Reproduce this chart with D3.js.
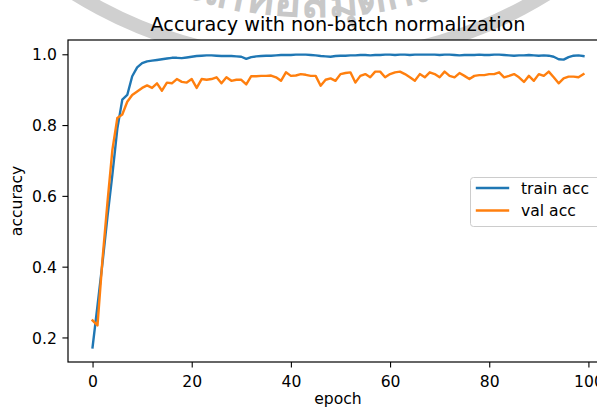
<!DOCTYPE html>
<html>
<head>
<meta charset="utf-8">
<script src="https://cdn.jsdelivr.net/npm/d3@7"></script>
<style>
  html, body { margin: 0; padding: 0; background: #fff; overflow: hidden; }
  svg { display: block; }
  text { font-family: "DejaVu Sans", sans-serif; fill: #000; }
</style>
</head>
<body>
<svg id="chart" width="597" height="409"></svg>
<script>
// Per-epoch accuracy of the model trained without batch normalization
const trainAcc = [
  0.172, 0.29, 0.41, 0.54, 0.66, 0.79, 0.872, 0.885, 0.938, 0.963,
  0.975, 0.980, 0.982, 0.984, 0.986, 0.988, 0.990, 0.990, 0.989, 0.991,
  0.993, 0.995, 0.996, 0.997, 0.997, 0.996, 0.995, 0.995, 0.995, 0.994,
  0.993, 0.987, 0.992, 0.994, 0.995, 0.996, 0.996, 0.997, 0.998, 0.998,
  0.998, 0.999, 0.999, 0.999, 0.998, 0.997, 0.995, 0.994, 0.993, 0.995,
  0.996, 0.996, 0.997, 0.997, 0.998, 0.998, 0.997, 0.998, 0.998, 0.999,
  0.999, 0.998, 0.999, 0.999, 0.998, 0.999, 0.999, 0.999, 0.999, 0.999,
  0.998, 0.999, 0.999, 0.998, 0.997, 0.998, 0.998, 0.998, 0.999, 0.998,
  0.998, 0.999, 0.999, 0.998, 0.997, 0.996, 0.997, 0.997, 0.998, 0.997,
  0.996, 0.997, 0.996, 0.993, 0.986, 0.985, 0.992, 0.996, 0.997, 0.995
];
const valAcc = [
  0.248, 0.234, 0.42, 0.58, 0.73, 0.82, 0.83, 0.866, 0.885, 0.895,
  0.905, 0.912, 0.905, 0.918, 0.897, 0.920, 0.918, 0.930, 0.922, 0.920,
  0.930, 0.905, 0.930, 0.928, 0.930, 0.935, 0.918, 0.935, 0.925, 0.928,
  0.928, 0.915, 0.938, 0.938, 0.939, 0.939, 0.940, 0.935, 0.925, 0.949,
  0.939, 0.940, 0.944, 0.942, 0.939, 0.939, 0.911, 0.928, 0.932, 0.925,
  0.944, 0.947, 0.949, 0.920, 0.939, 0.944, 0.935, 0.951, 0.951, 0.935,
  0.944, 0.949, 0.951, 0.944, 0.935, 0.925, 0.944, 0.935, 0.949, 0.944,
  0.935, 0.951, 0.939, 0.935, 0.947, 0.939, 0.930, 0.939, 0.941, 0.941,
  0.944, 0.944, 0.949, 0.935, 0.939, 0.944, 0.935, 0.922, 0.939, 0.925,
  0.944, 0.939, 0.951, 0.935, 0.918, 0.932, 0.937, 0.937, 0.935, 0.944
];
const seriesNames = ["train acc", "val acc"];
const seriesColors = ["#1f77b4", "#ff7f0e"];
const xTicks = [0, 20, 40, 60, 80, 100];
const yTicks = [0.2, 0.4, 0.6, 0.8, 1.0];
const titleText = "Accuracy with non-batch normalization";
const xLabel = "epoch";
const yLabel = "accuracy";
const stampText = "สำนักหอสมุดกลาง";

const svg = d3.select("#chart");
const plot = { left: 68, right: 608, top: 40, bottom: 362 };
const tickFont = 15.6, titleFont = 19.2;
const tickLen = 5.6, tickPad = 5.6;

// library stamp ring behind the figure
const stamp = svg.append("g");
const cx = 311, cy = -387, rOut = 455, rIn = 441;
stamp.append("path")
  .attr("d", d3.arc()({ innerRadius: rIn, outerRadius: rOut, startAngle: 0, endAngle: 2 * Math.PI }))
  .attr("transform", `translate(${cx},${cy})`)
  .attr("fill", "#d0d0d0");
const rText = 404;
const a0 = Math.PI / 2 + 0.42, a1 = Math.PI / 2 - 0.42;
stamp.append("path")
  .attr("id", "stampArc")
  .attr("fill", "none")
  .attr("d", `M${cx + rText * Math.cos(a0)},${cy + rText * Math.sin(a0)} A${rText},${rText} 0 0 0 ${cx + rText * Math.cos(a1)},${cy + rText * Math.sin(a1)}`);
stamp.append("text")
  .style("font-family", "'Noto Sans', 'DejaVu Sans', sans-serif")
  .style("font-size", "46px")
  .style("font-weight", "bold")
  .style("fill", "#c8c8c8")
  .append("textPath")
  .attr("href", "#stampArc")
  .attr("startOffset", "50%")
  .attr("text-anchor", "middle")
  .text(stampText);

// axes background
svg.append("rect")
  .attr("x", plot.left).attr("y", plot.top)
  .attr("width", plot.right - plot.left).attr("height", plot.bottom - plot.top)
  .attr("fill", "#fff");

const epochs = trainAcc.map((_, i) => i);
const allVals = trainAcc.concat(valAcc);
const [vMin, vMax] = d3.extent(allVals);
const [eMin, eMax] = d3.extent(epochs);
const yPad = (vMax - vMin) * 0.05, xPad = (eMax - eMin) * 0.05;

const x = d3.scaleLinear().domain([eMin - xPad, eMax + xPad]).range([plot.left, plot.right]);
const y = d3.scaleLinear().domain([vMin - yPad, vMax + yPad]).range([plot.bottom, plot.top]);

// lines
const line = d3.line().x((d, i) => x(epochs[i])).y(d => y(d));
[trainAcc, valAcc].forEach((vals, k) => {
  svg.append("path")
    .datum(vals)
    .attr("d", line)
    .attr("fill", "none")
    .attr("stroke", seriesColors[k])
    .attr("stroke-width", 2.4)
    .attr("stroke-linejoin", "round")
    .attr("stroke-linecap", "square");
});

// axes
const xAxis = d3.axisBottom(x).tickValues(xTicks).tickSize(tickLen).tickPadding(tickPad).tickFormat(d3.format("d"));
const yAxis = d3.axisLeft(y).tickValues(yTicks).tickSize(tickLen).tickPadding(tickPad).tickFormat(d3.format(".1f"));

const gx = svg.append("g").attr("transform", `translate(0,${plot.bottom})`).call(xAxis);
const gy = svg.append("g").attr("transform", `translate(${plot.left},0)`).call(yAxis);
[gx, gy].forEach(g => {
  g.select(".domain").remove();
  g.selectAll(".tick line").attr("stroke", "#000").attr("stroke-width", 1.1);
  g.selectAll(".tick text")
    .attr("fill", "#262626")
    .style("font-family", "DejaVu Sans, sans-serif")
    .style("font-size", tickFont + "px");
});
gx.selectAll(".tick text").attr("dy", null).attr("y", tickLen + tickPad).attr("dominant-baseline", "text-before-edge");
gy.selectAll(".tick text").attr("dy", "0.36em");

// spines
svg.append("rect")
  .attr("x", plot.left).attr("y", plot.top)
  .attr("width", plot.right - plot.left).attr("height", plot.bottom - plot.top)
  .attr("fill", "none")
  .attr("stroke", "#000")
  .attr("stroke-width", 1.2);

// title and axis labels
svg.append("text")
  .attr("x", (plot.left + plot.right) / 2).attr("y", 30.5)
  .attr("text-anchor", "middle")
  .style("font-size", titleFont + "px")
  .attr("fill", "#262626")
  .text(titleText);
svg.append("text")
  .attr("x", (plot.left + plot.right) / 2).attr("y", 404)
  .attr("text-anchor", "middle")
  .style("font-size", tickFont + "px")
  .attr("fill", "#262626")
  .text(xLabel);
svg.append("text")
  .attr("transform", `translate(22,${(plot.top + plot.bottom) / 2}) rotate(-90)`)
  .attr("text-anchor", "middle")
  .style("font-size", tickFont + "px")
  .attr("fill", "#262626")
  .text(yLabel);

// legend
const lg = svg.append("g");
lg.append("rect")
  .attr("x", 470.5).attr("y", 177.5)
  .attr("width", 131).attr("height", 49)
  .attr("rx", 3)
  .attr("fill", "#fff").attr("fill-opacity", 0.8)
  .attr("stroke", "#cccccc").attr("stroke-width", 1);
seriesNames.forEach((name, k) => {
  const cyRow = 188 + k * 22.5;
  lg.append("line")
    .attr("x1", 477).attr("x2", 508)
    .attr("y1", cyRow).attr("y2", cyRow)
    .attr("stroke", seriesColors[k]).attr("stroke-width", 2.4)
    .attr("stroke-linecap", "square");
  lg.append("text")
    .attr("x", 521).attr("y", cyRow + 5.5)
    .style("font-size", tickFont + "px")
    .attr("fill", "#262626")
    .text(name);
});
</script>
</body>
</html>
